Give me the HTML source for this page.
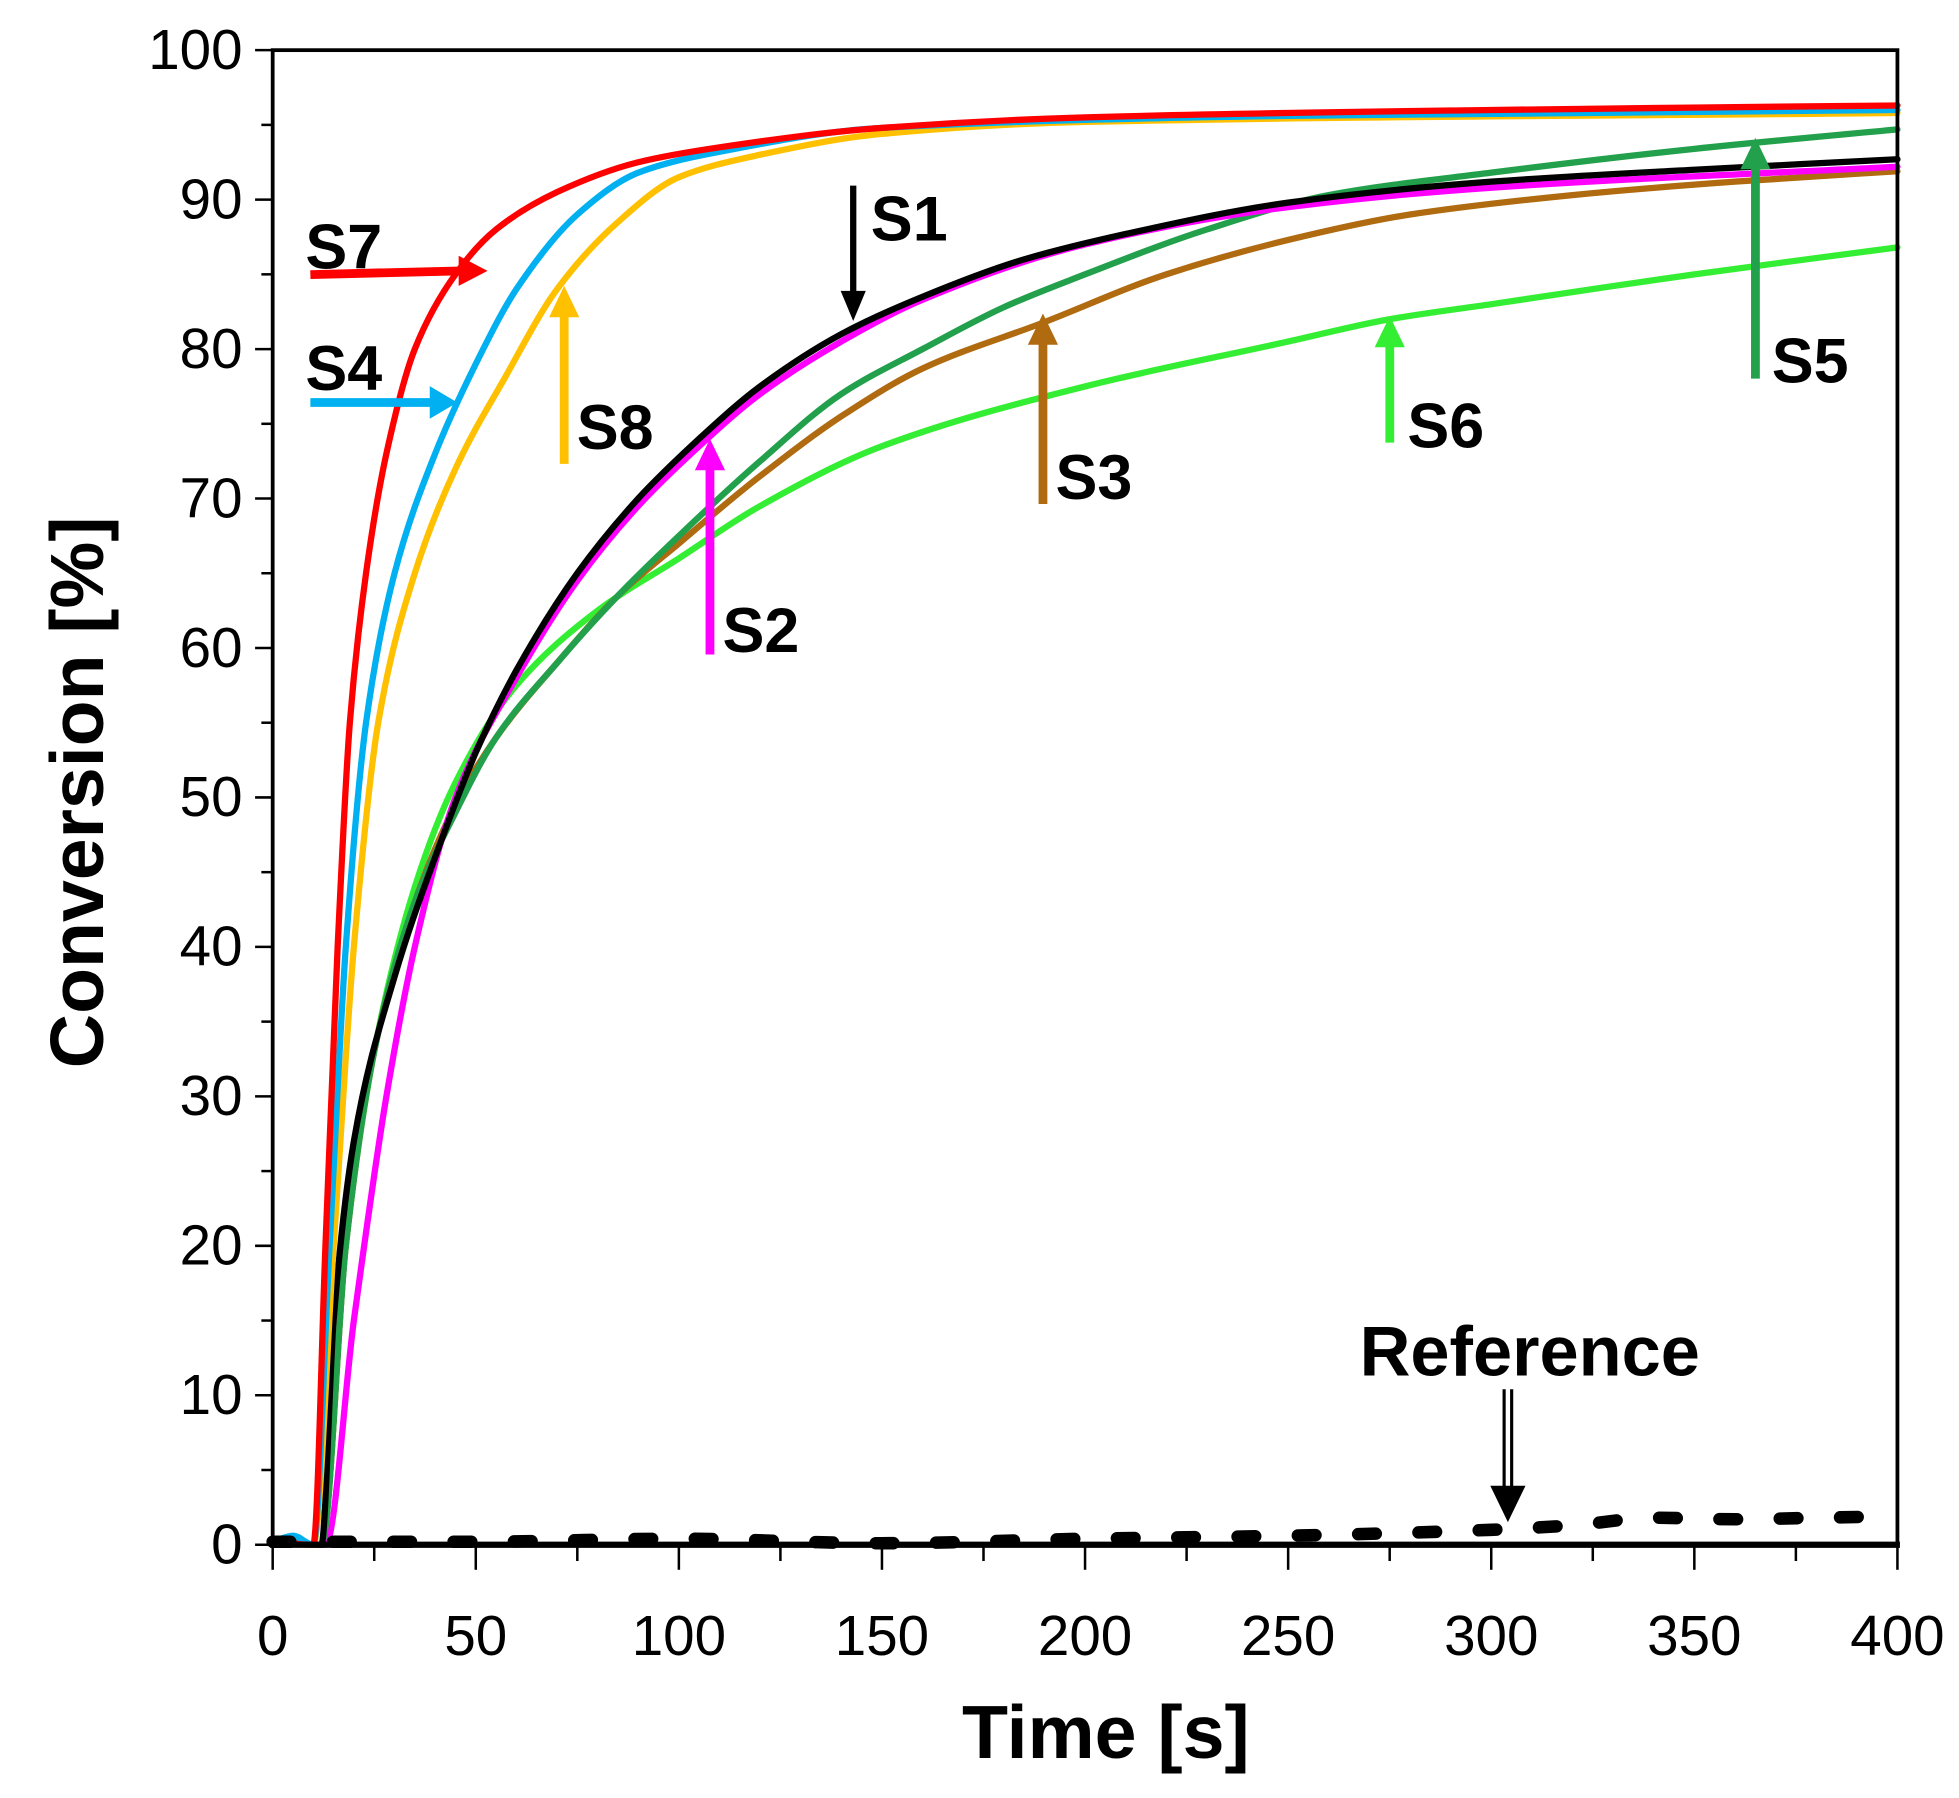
<!DOCTYPE html>
<html><head><meta charset="utf-8"><style>
html,body{margin:0;padding:0;background:#fff;}
svg{display:block;}
text{font-family:"Liberation Sans",sans-serif;}
.tk{font-size:45px;}
.lb{font-size:50px;font-weight:bold;}
</style></head><body>
<svg id="s" width="1959" height="1798" viewBox="0 0 1559 1434" preserveAspectRatio="none" xmlns="http://www.w3.org/2000/svg">
<rect x="0" y="0" width="1559" height="1434" fill="#fff"/>
<g id="ticks" stroke="#000" stroke-width="2"></g>
<g id="curves" fill="none" stroke-linejoin="round" stroke-linecap="round"></g>
<rect x="217" y="40" width="1293" height="1192" fill="none" stroke="#000" stroke-width="3"/>
<line x1="215" y1="1232" x2="1512" y2="1232" stroke="#000" stroke-width="5"/>
<g id="labels"></g>
<text x="880" y="1402" text-anchor="middle" font-weight="bold" font-size="60">Time [s]</text>
<text transform="translate(82,632) rotate(-90)" text-anchor="middle" font-weight="bold" font-size="60">Conversion [%]</text>
<g class="lb">
<text x="243" y="214">S7</text>
<text x="243" y="311">S4</text>
<text x="459" y="358">S8</text>
<text x="693" y="192">S1</text>
<text x="575" y="520">S2</text>
<text x="840" y="398">S3</text>
<text x="1120" y="357">S6</text>
<text x="1410" y="305">S5</text>
<text x="1082" y="1097" font-size="56">Reference</text>
</g>
<g stroke-width="7" fill="none">
<line x1="247" y1="219" x2="368" y2="216" stroke="#ff0000"/><polygon points="365,204 388,216 365,228" fill="#ff0000" stroke="none"/>
<line x1="247" y1="321" x2="345" y2="321" stroke="#00b0f0"/><polygon points="342,308 364,321 342,334" fill="#00b0f0" stroke="none"/>
<line x1="449" y1="370" x2="449" y2="250" stroke="#ffc000"/><polygon points="437,253 449,228 461,253" fill="#ffc000" stroke="none"/>
<line x1="679" y1="148" x2="679" y2="235" stroke="#000" stroke-width="5"/><polygon points="669,232 679,256 689,232" fill="#000" stroke="none"/>
<line x1="565" y1="522" x2="565" y2="372" stroke="#ff00ff"/><polygon points="553,375 565,350 577,375" fill="#ff00ff" stroke="none"/>
<line x1="830" y1="402" x2="830" y2="272" stroke="#b06a10"/><polygon points="818,275 830,250 842,275" fill="#b06a10" stroke="none"/>
<line x1="1106" y1="353" x2="1106" y2="274" stroke="#33ee33"/><polygon points="1094,277 1106,252 1118,277" fill="#33ee33" stroke="none"/>
<line x1="1397" y1="302" x2="1397" y2="132" stroke="#22a04b"/><polygon points="1385,135 1397,110 1409,135" fill="#22a04b" stroke="none"/>
<line x1="1197" y1="1108" x2="1197" y2="1190" stroke="#000" stroke-width="2.5"/>
<line x1="1203" y1="1108" x2="1203" y2="1190" stroke="#000" stroke-width="2.5"/>
<polygon points="1186,1185 1200,1214 1214,1185" fill="#000" stroke="none"/>
</g>
</svg>
<script>
var NS="http://www.w3.org/2000/svg";
function X(t){return 217+t*3.2325;}
function Y(p){return 1232-p*11.92;}
function el(tag,attrs,parent,txt){var e=document.createElementNS(NS,tag);for(var k in attrs)e.setAttribute(k,attrs[k]);if(txt!==undefined)e.textContent=txt;parent.appendChild(e);return e;}
var tk=document.getElementById('ticks'),lb=document.getElementById('labels');
for(var i=0;i<=20;i++){var y=Y(i*5);var len=i%2==0?14:9;el('line',{x1:217-len,y1:y,x2:217,y2:y},tk);
 if(i%2==0)el('text',{x:193,y:y+15,'text-anchor':'end','class':'tk'},lb,String(i*5));}
for(var i=0;i<=16;i++){var x=X(i*25);var len=i%2==0?20:13;el('line',{x1:x,y1:1232,x2:x,y2:1232+len},tk);
 if(i%2==0)el('text',{x:x,y:1320,'text-anchor':'middle','class':'tk'},lb,String(i*25));}
/* monotone cubic (Fritsch-Carlson) */
function path(pts){
 var n=pts.length,xs=[],ys=[],d=[],m=[];
 for(var i=0;i<n;i++){xs.push(pts[i][0]);ys.push(pts[i][1]);}
 for(var i=0;i<n-1;i++)d.push((ys[i+1]-ys[i])/(xs[i+1]-xs[i]));
 m[0]=d[0];m[n-1]=d[n-2];
 for(var i=1;i<n-1;i++){if(d[i-1]*d[i]<=0)m[i]=0;else{var w1=2*(xs[i+1]-xs[i])+(xs[i]-xs[i-1]),w2=(xs[i+1]-xs[i])+2*(xs[i]-xs[i-1]);m[i]=(w1+w2)/(w1/d[i-1]+w2/d[i]);}}
 var s="M"+X(xs[0]).toFixed(1)+","+Y(ys[0]).toFixed(1);
 for(var i=0;i<n-1;i++){var h=xs[i+1]-xs[i];
  s+=" C"+X(xs[i]+h/3).toFixed(1)+","+Y(ys[i]+m[i]*h/3).toFixed(1)+" "+X(xs[i+1]-h/3).toFixed(1)+","+Y(ys[i+1]-m[i+1]*h/3).toFixed(1)+" "+X(xs[i+1]).toFixed(1)+","+Y(ys[i+1]).toFixed(1);}
 return s;}
var cv=document.getElementById('curves');
var S={
S6:["#33ee33",[[0,0.2],[12,0],[18,20],[25,33],[35,44],[45,51],[60,57.5],[80,62.5],[100,66],[120,69.5],[150,73.5],[200,77.5],[250,80.5],[275,82],[300,83],[350,85],[400,86.8]]],
S3:["#b06a10",[[0,0.2],[12,0],[18,20],[25,33],[35,43],[45,49.5],[55,54],[70,59],[85,63.5],[100,67],[120,71.5],[140,75.5],[160,78.7],[190,81.8],[220,85],[250,87.3],[280,89],[320,90.3],[360,91.2],[400,91.9]]],
S5:["#22a04b",[[0,0.2],[12,0],[18,20],[25,33],[35,43],[45,49],[55,54],[70,59],[85,63.5],[100,67.5],[120,72.5],[140,77],[160,80],[180,82.8],[200,85],[230,88],[260,90.3],[300,91.8],[350,93.4],[400,94.7]]],
S2:["#ff00ff",[[0,0.2],[13,0],[20,15],[28,30],[35,40],[45,50],[60,58],[75,64.5],[90,69.5],[105,73.5],[120,77],[140,80.5],[160,83.3],[200,87],[250,89.5],[300,90.8],[400,92.2]]],
S1:["#000000",[[0,0.2],[12,0],[15,15],[20,27],[30,38],[40,46],[50,53],[60,58.5],[75,65],[90,70],[105,74],[120,77.5],[140,81],[160,83.5],[185,86],[210,87.7],[250,89.8],[300,91.2],[350,92],[400,92.7]]],
S8:["#ffc000",[[0,0.2],[10,0],[15,20],[20,40],[26,55],[35,65],[45,72],[57,78],[70,84],[85,88.5],[100,91.5],[120,93],[150,94.4],[200,95.2],[400,95.8]]],
S4:["#00b0f0",[[0,0.2],[5,0.6],[10,0],[14,20],[18,40],[23,55],[30,65],[40,73],[50,79],[60,84],[75,89],[90,91.8],[110,93.2],[150,94.8],[250,95.6],[400,96]]],
S7:["#ff0000",[[0,0.2],[10,0],[13,20],[16,40],[19,55],[23,65],[28,73],[35,80],[45,85],[55,88],[70,90.5],[90,92.5],[110,93.5],[150,94.8],[200,95.5],[300,96],[400,96.3]]]
};
for(var k in S){el('path',{d:path(S[k][1]),stroke:S[k][0],'stroke-width':5},cv);}
var ref=[[0,0.2],[50,0.2],[100,0.4],[150,0.1],[200,0.4],[250,0.6],[300,1],[320,1.3],[340,1.8],[360,1.7],[380,1.8],[400,1.9]];
el('path',{d:path(ref),stroke:"#000",'stroke-width':10,'stroke-dasharray':"14 34",'stroke-linecap':'round'},cv);
</script>
</body></html>
